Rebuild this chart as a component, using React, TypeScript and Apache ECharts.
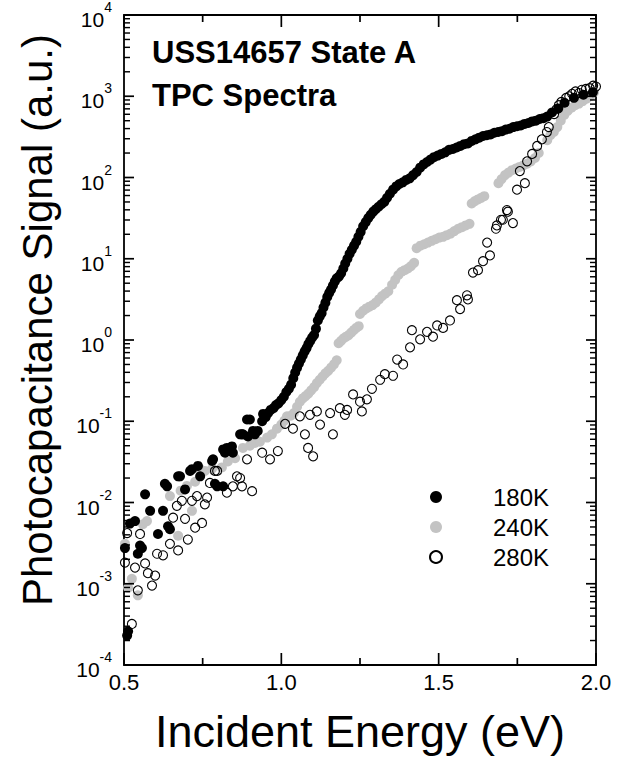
import React, { useEffect, useRef } from "react";
import * as echarts from "echarts";

const FONT = '"Liberation Sans", Arial, Helvetica, sans-serif';
const X_MIN = 0.5;
const X_MAX = 2.0;
const Y_MIN = 1e-4;
const Y_MAX = 1e4;

const seriesNames = ["180K", "240K", "280K"];
const xTickLabels = ["0.5", "1.0", "1.5", "2.0"];
const titleLines = ["USS14657 State A", "TPC Spectra"];

// 180K (filled black)
const energy180 = [
  0.503, 0.510, 0.513, 0.519, 0.535, 0.544, 0.551, 0.557, 0.567, 0.583,
  0.608, 0.624, 0.630, 0.637, 0.640, 0.646, 0.672, 0.678, 0.694, 0.710,
  0.716, 0.735, 0.742, 0.780, 0.783, 0.789, 0.796, 0.815, 0.815, 0.821,
  0.827, 0.837, 0.843, 0.846, 0.869, 0.875, 0.878, 0.891, 0.894, 0.900,
  0.910, 0.916, 0.925, 0.939, 0.942,
  0.950, 0.958, 0.966, 0.975, 0.983, 0.991, 1.000, 1.008, 1.016, 1.024,
  1.031, 1.038, 1.044, 1.050, 1.056, 1.062, 1.068, 1.074, 1.080, 1.086,
  1.092, 1.098, 1.104, 1.110, 1.116, 1.122, 1.128, 1.134, 1.140, 1.146,
  1.152, 1.158, 1.164, 1.170, 1.176, 1.183, 1.190, 1.197, 1.203, 1.210,
  1.217, 1.224, 1.231, 1.238, 1.245, 1.252, 1.260, 1.268, 1.276, 1.284,
  1.292, 1.300, 1.309, 1.318, 1.327, 1.336, 1.345, 1.355, 1.365, 1.375,
  1.386, 1.397, 1.408, 1.419, 1.430, 1.441, 1.452, 1.463, 1.474, 1.485,
  1.497, 1.509, 1.521, 1.533, 1.545, 1.557, 1.569, 1.581, 1.593, 1.605,
  1.617, 1.629, 1.641, 1.653, 1.665, 1.677, 1.689, 1.701, 1.713, 1.725,
  1.737, 1.749, 1.761, 1.773, 1.785, 1.797, 1.809, 1.821, 1.833, 1.845,
  1.860, 1.880, 1.900, 1.930, 1.960, 1.990,
];
const signal180 = [
  2.75e-3, 2.3e-4, 2.6e-4, 5.5e-3, 5.9e-3, 2.34e-3, 2.95e-3, 2.75e-3, 1.26e-2, 7.9e-3,
  4.1e-3, 7.9e-3, 1.7e-2, 1.58e-2, 5.1e-3, 4.7e-3, 2.1e-2, 2.1e-2, 1.45e-2, 2.45e-2,
  2.57e-2, 2.82e-2, 2.1e-2, 3.24e-2, 3.4e-2, 1.7e-2, 1.58e-2, 1.58e-2, 4.5e-2, 4.1e-2,
  4.7e-2, 4.7e-2, 4.9e-2, 4.1e-2, 6.9e-2, 6.9e-2, 6.9e-2, 0.105, 6.5e-2, 0.105,
  7.6e-2, 6.9e-2, 7.6e-2, 0.10, 0.123,
  0.112, 0.126, 0.138, 0.145, 0.158, 0.166, 0.182, 0.200, 0.229, 0.251,
  0.282, 0.339, 0.398, 0.457, 0.513, 0.575, 0.646, 0.724, 0.794, 0.891,
  0.977, 1.07, 1.15, 1.38, 1.74, 1.95, 2.14, 2.51, 2.88, 3.39,
  3.80, 4.17, 4.68, 5.25, 5.75, 6.03, 6.61, 7.59, 8.71, 10.0,
  11.5, 12.9, 14.5, 16.2, 18.6, 21.4, 25.1, 28.2, 31.6, 34.7,
  38.0, 40.7, 43.7, 46.8, 50.1, 56.2, 63.1, 70.8, 77.6, 83.2,
  87.1, 93.3, 97.7, 107, 117, 132, 145, 155, 166, 178,
  186, 195, 204, 219, 224, 234, 245, 257, 263, 282,
  295, 309, 324, 331, 339, 355, 363, 372, 389, 398,
  417, 427, 437, 457, 468, 490, 501, 525, 537, 562,
  631, 708, 832, 955, 1047, 1122,
];

// 240K (filled grey)
const energy240 = [
  0.503, 0.513, 0.525, 0.544, 0.560, 0.573, 0.646, 0.672, 0.680, 0.700,
  0.716, 0.726, 0.742, 0.757, 0.780, 0.811, 0.830, 0.853, 0.878, 0.900,
  0.916, 0.932, 0.955, 0.970, 0.986, 1.000, 1.010, 1.018, 1.030, 1.040,
  1.050,
  1.059, 1.068, 1.077, 1.086, 1.095, 1.104, 1.113, 1.122, 1.131, 1.140,
  1.149, 1.158, 1.167, 1.176,
  1.182, 1.190, 1.198, 1.206, 1.214, 1.222, 1.230, 1.238, 1.246,
  1.250, 1.260, 1.270, 1.280, 1.290, 1.300, 1.310, 1.320, 1.330, 1.340,
  1.352, 1.362, 1.372, 1.382, 1.392, 1.402, 1.412, 1.422,
  1.430, 1.442, 1.454, 1.466, 1.478, 1.490, 1.502, 1.514, 1.526, 1.538,
  1.550, 1.562, 1.574, 1.586, 1.598,
  1.605, 1.615, 1.625, 1.635, 1.645,
  1.690, 1.700, 1.711, 1.722, 1.733, 1.745, 1.757, 1.769, 1.781, 1.793,
  1.806, 1.818,
  1.845, 1.855, 1.866, 1.877, 1.888, 1.899, 1.910, 1.922, 1.934, 1.946,
  1.958, 1.970, 1.982, 1.994,
];
const signal240 = [
  3.1e-3, 8.9e-4, 1.15e-3, 7.2e-4, 5.4e-3, 5.9e-3, 1.2e-2, 3.9e-3, 1.4e-2, 1.6e-2,
  7.9e-3, 1.8e-2, 2.57e-2, 2.45e-2, 2.6e-2, 2.7e-2, 3.2e-2, 3.5e-2, 4.7e-2, 5.0e-2,
  5.4e-2, 5.6e-2, 6.3e-2, 6.9e-2, 8.1e-2, 9.1e-2, 0.102, 0.115, 0.117, 0.126,
  0.151,
  0.174, 0.191, 0.204, 0.219, 0.240, 0.263, 0.295, 0.324, 0.355, 0.389,
  0.417, 0.457, 0.501, 0.562,
  0.912, 0.977, 1.05, 1.10, 1.15, 1.23, 1.32, 1.41, 1.48,
  2.09, 2.29, 2.45, 2.57, 2.69, 2.88, 3.16, 3.47, 3.72, 3.98,
  4.79, 5.50, 6.31, 6.92, 7.24, 7.59, 8.13, 8.91,
  13.5, 14.5, 15.1, 15.8, 16.6, 17.4, 18.2, 18.6, 19.5, 20.4,
  21.9, 23.4, 24.5, 25.7, 26.9,
  47.9, 51.3, 53.7, 56.2, 58.9,
  85.1, 95.5, 107, 115, 123, 129, 135, 141, 148, 158,
  174, 200,
  288, 331, 363, 417, 501, 589, 661, 724, 776, 813,
  871, 933, 1000, 1122,
];

// 280K (open circles)
const energy280 = [
  0.503, 0.510, 0.525, 0.535, 0.544, 0.551, 0.567, 0.576, 0.589, 0.599,
  0.605, 0.624, 0.646, 0.656, 0.668, 0.672, 0.684, 0.694, 0.703, 0.716,
  0.726, 0.732, 0.748, 0.757, 0.764, 0.773, 0.789, 0.796, 0.827, 0.846,
  0.859, 0.869, 0.875, 0.891, 0.907, 0.939, 0.964, 0.989, 1.012, 1.037,
  1.059, 1.075, 1.085, 1.091, 1.101, 1.113, 1.123, 1.155, 1.164, 1.186,
  1.202, 1.209, 1.228, 1.250, 1.256, 1.272, 1.288, 1.314, 1.329, 1.355,
  1.368, 1.387, 1.409, 1.415, 1.441, 1.463, 1.482, 1.495, 1.514, 1.536,
  1.558, 1.568, 1.590, 1.593, 1.609, 1.625, 1.641, 1.654, 1.663, 1.682,
  1.685, 1.698, 1.704, 1.717, 1.720, 1.736, 1.749, 1.758, 1.774, 1.781,
  1.797, 1.813, 1.828, 1.844, 1.850, 1.867, 1.875, 1.882, 1.890, 1.905,
  1.915, 1.924, 1.935, 1.946, 1.955, 1.968, 1.980, 1.991, 2.000,
];
const signal280 = [
  1.82e-3, 4.2e-3, 3.2e-4, 1.58e-3, 8.3e-4, 4.1e-3, 1.78e-3, 1.35e-3, 9.5e-4, 1.26e-3,
  2.34e-3, 2.24e-3, 3.1e-3, 6.5e-3, 9.1e-3, 2.57e-3, 1.05e-2, 6.3e-3, 3.5e-3, 1.05e-2,
  4.9e-3, 1.2e-2, 5.6e-3, 9.5e-3, 1.15e-2, 1.74e-2, 2.45e-2, 2.45e-2, 1.32e-2, 1.58e-2,
  2.1e-2, 2.0e-2, 1.58e-2, 3.4e-2, 1.38e-2, 4.1e-2, 3.4e-2, 4.3e-2, 9.3e-2, 8.1e-2,
  0.115, 6.9e-2, 4.7e-2, 0.12, 3.7e-2, 0.132, 9.1e-2, 0.126, 6.9e-2, 0.145,
  0.12, 0.138, 0.214, 0.174, 0.132, 0.186, 0.251, 0.324, 0.38, 0.363,
  0.575, 0.50, 0.813, 1.32, 1.02, 1.26, 1.10, 1.51, 1.41, 1.74,
  3.09, 2.40, 3.55, 3.16, 6.76, 7.24, 9.33, 15.8, 11.0, 23.4,
  25.7, 30.2, 30.2, 39.8, 38.0, 27.5, 70.8, 120, 85.1, 158,
  195, 245, 295, 363, 417, 603, 692, 776, 851, 955,
  1000, 1072, 1148, 1096, 1202, 1230, 1259, 1349, 1318,
];

// tick positions of the frame (drawn inside on all four sides)
const yMajorTicks = [1e-4, 1e-3, 1e-2, 1e-1, 1e0, 1e1, 1e2, 1e3, 1e4];
const yMinorTicks: number[] = [];
for (let e = -4; e < 4; e++) {
  for (let m = 2; m <= 9; m++) yMinorTicks.push(m * Math.pow(10, e));
}
const xMajorTicks = [0.5, 1.0, 1.5, 2.0];
const xMinorTicks = [0.75, 1.25, 1.75];

const zip = (xs: number[], ys: number[]) => xs.map((x, i) => [x, ys[i]]);

// ticks drawn as thin rectangle symbols anchored on the axis values
function tickSeries(id: string, data: number[][], size: number[], offset: number[]) {
  return {
    id,
    name: id,
    type: "scatter",
    xAxisIndex: 0,
    yAxisIndex: 0,
    silent: true,
    clip: false,
    z: 4,
    symbol: "rect",
    symbolSize: size,
    symbolOffset: offset,
    itemStyle: { color: "#000", opacity: 1 },
    data,
  };
}

export default function App() {
  const ref = useRef<HTMLDivElement>(null);

  useEffect(() => {
    document.body.style.margin = "0";
    const chart = echarts.init(ref.current!, null, { renderer: "svg" });

    const commonX = {
      type: "value",
      min: X_MIN,
      max: X_MAX,
      interval: 0.5,
      splitLine: { show: false },
      axisLine: { show: true, onZero: false, lineStyle: { color: "#000", width: 1.8 } },
      axisTick: { show: false },
    };
    const commonY = {
      type: "log",
      logBase: 10,
      min: Y_MIN,
      max: Y_MAX,
      interval: 1,
      splitLine: { show: false },
      axisLine: { show: true, onZero: false, lineStyle: { color: "#000", width: 1.8 } },
      axisTick: { show: false },
    };

    const ML = 10; // major tick length, y
    const mL = 6; // minor tick length, y
    const XL = 12; // major tick length, x
    const xL = 7; // minor tick length, x
    const W = 1.7;

    chart.setOption({
      animation: false,
      backgroundColor: "#fff",
      textStyle: { fontFamily: FONT },
      title: {
        text: titleLines.join("\n"),
        left: 152,
        top: 31,
        padding: 0,
        textStyle: { fontFamily: FONT, fontSize: 31, fontWeight: "bold", color: "#000", lineHeight: 43 },
      },
      legend: {
        data: seriesNames,
        orient: "vertical",
        left: 429,
        top: 485,
        itemWidth: 12,
        itemHeight: 12,
        itemGap: 6,
        padding: 0,
        textStyle: { fontFamily: FONT, fontSize: 24, color: "#000", lineHeight: 24, padding: [0, 0, 0, 46] },
      },
      grid: { left: 124, right: 28, top: 11, bottom: 98 },
      xAxis: [
        {
          ...commonX,
          position: "bottom",
          name: "Incident Energy (eV)",
          nameLocation: "middle",
          nameGap: 44,
          nameTextStyle: { fontFamily: FONT, fontSize: 45, color: "#000" },
          axisLabel: {
            show: true,
            fontFamily: FONT,
            fontSize: 22,
            color: "#000",
            margin: 6,
            formatter: (v: number) => xTickLabels[Math.round((v - X_MIN) / 0.5)] ?? "",
          },
        },
        { ...commonX, position: "top", axisLabel: { show: false } },
      ],
      yAxis: [
        {
          ...commonY,
          position: "left",
          axisLabel: {
            show: true,
            margin: 12,
            color: "#000",
            formatter: (v: number) => `{b|10}{s|${Math.round(Math.log10(v))}}`,
            rich: {
              b: { fontFamily: FONT, fontSize: 21, color: "#000", lineHeight: 21, verticalAlign: "bottom" },
              s: { fontFamily: FONT, fontSize: 14, color: "#000", lineHeight: 30, verticalAlign: "top" },
            },
          },
        },
        { ...commonY, position: "right", axisLabel: { show: false } },
      ],
      graphic: [
        {
          type: "text",
          x: 37,
          y: 320,
          rotation: Math.PI / 2,
          style: {
            text: "Photocapacitance Signal (a.u.)",
            fontFamily: FONT,
            fontSize: 42,
            fill: "#000",
            align: "center",
            verticalAlign: "middle",
          },
        },
      ],
      series: [
        tickSeries("ticks-y-left-major", yMajorTicks.map((v) => [X_MIN, v]), [ML, W], [ML / 2, 0]),
        tickSeries("ticks-y-right-major", yMajorTicks.map((v) => [X_MAX, v]), [ML, W], [-ML / 2, 0]),
        tickSeries("ticks-y-left-minor", yMinorTicks.map((v) => [X_MIN, v]), [mL, W * 0.85], [mL / 2, 0]),
        tickSeries("ticks-y-right-minor", yMinorTicks.map((v) => [X_MAX, v]), [mL, W * 0.85], [-mL / 2, 0]),
        tickSeries("ticks-x-bottom-major", xMajorTicks.map((v) => [v, Y_MIN]), [W, XL], [0, -XL / 2]),
        tickSeries("ticks-x-top-major", xMajorTicks.map((v) => [v, Y_MAX]), [W, XL], [0, XL / 2]),
        tickSeries("ticks-x-bottom-minor", xMinorTicks.map((v) => [v, Y_MIN]), [W, xL], [0, -xL / 2]),
        tickSeries("ticks-x-top-minor", xMinorTicks.map((v) => [v, Y_MAX]), [W, xL], [0, xL / 2]),
        {
          name: seriesNames[1],
          type: "scatter",
          symbol: "circle",
          symbolSize: 10,
          itemStyle: { color: "#c3c3c3", opacity: 1 },
          data: zip(energy240, signal240),
        },
        {
          name: seriesNames[0],
          type: "scatter",
          symbol: "circle",
          symbolSize: 10,
          itemStyle: { color: "#000", opacity: 1 },
          data: zip(energy180, signal180),
        },
        {
          name: seriesNames[2],
          type: "scatter",
          symbol: "circle",
          symbolSize: 9,
          itemStyle: { color: "rgba(255,255,255,0)", borderColor: "#000", borderWidth: 1.1, opacity: 1 },
          data: zip(energy280, signal280),
        },
      ],
    });

    return () => chart.dispose();
  }, []);

  return <div ref={ref} style={{ position: "absolute", left: 0, top: 0, width: 624, height: 763 }} />;
}
